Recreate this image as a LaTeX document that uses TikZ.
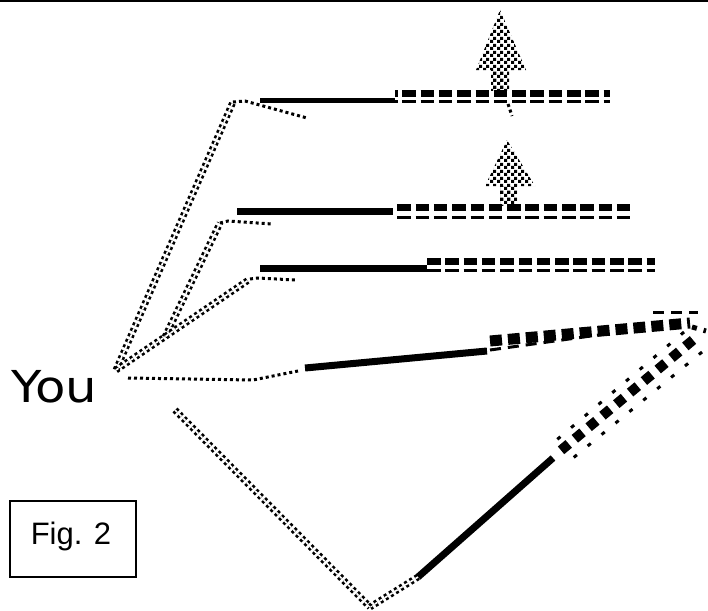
\documentclass[tikz,border=0pt]{standalone}
\usepackage{fontspec}
\setmainfont{Liberation Sans}
\newfontfamily\youfont{DejaVu Sans}
\usetikzlibrary{patterns}
\pgfdeclarepatternformonly{pixcheck}{\pgfqpoint{0pt}{0pt}}{\pgfqpoint{7pt}{7pt}}{\pgfqpoint{7pt}{7pt}}{%
  \pgfpathrectangle{\pgfpointorigin}{\pgfqpoint{3.5pt}{3.5pt}}%
  \pgfpathrectangle{\pgfqpoint{3.5pt}{3.5pt}}{\pgfqpoint{3.5pt}{3.5pt}}%
  \pgfusepath{fill}}
\begin{document}
\begin{tikzpicture}[x=1pt,y=-1pt,
  pixdot/.style={line width=3pt, dash pattern=on 3pt off 3pt},
  pixpair/.style={double, double distance=1.6pt, line width=2.6pt, dash pattern=on 3pt off 3pt},
  bar/.style={line width=#1},
  bandtop/.style={line width=7pt, dash pattern=on 13.5pt off 4.8pt},
  bandlow/.style={line width=3pt, dash pattern=on 13.5pt off 4.8pt},
  bigband/.style={line width=11pt, dash pattern=on 12pt off 6pt},
  thinband/.style={line width=3pt, dash pattern=on 11pt off 7pt},
  treefill/.style={pattern=pixcheck},
  ]
\useasboundingbox (0,0) rectangle (708,610);

% top border
\coordinate (tl) at (0,0.8);
\coordinate (tr) at (708,0.8);
\draw[line width=1.6pt] (tl) -- (tr);

% labels
\node[font=\youfont\fontsize{44}{50}\selectfont, anchor=base west, inner sep=0pt] (you label) at (11,402) {\scalebox{1.13}[1]{You}};
\node[draw, line width=1.2pt, minimum width=126pt, minimum height=76pt, inner sep=0pt] (figbox) at (73,539) {};
\node[font=\fontsize{31}{34}\selectfont, anchor=base, inner sep=0pt] (figtext) at (71,544) {Fig. 2};

% origin of the paths
\coordinate (you) at (116,370);

% path A (top)
\coordinate (a1) at (233,102);
\coordinate (a2) at (245,101);
\coordinate (a3) at (307,118);
\draw[pixpair] (you) -- (a1);
\draw[pixdot] (a1) -- (a2) -- (a3);
\coordinate (s1a) at (260,100.5);
\coordinate (s1b) at (395,100.5);
\draw[bar=5pt] (s1a) -- (s1b);
\coordinate (d1a) at (395,93.5);
\coordinate (d1b) at (610,93.5);
\coordinate (d1c) at (395,101.5);
\coordinate (d1d) at (610,101.5);
\draw[bandtop, dash phase=11pt] (d1a) -- (d1b);
\draw[bandlow, dash phase=11pt] (d1c) -- (d1d);

% path B
\coordinate (b0) at (165,337);
\coordinate (b1) at (220,223);
\coordinate (b2) at (228,221);
\coordinate (b3) at (272,224);
\draw[pixpair] (b0) -- (b1);
\draw[pixdot] (b1) -- (b2) -- (b3);
\coordinate (s2a) at (237,211.5);
\coordinate (s2b) at (393,211.5);
\draw[bar=7pt] (s2a) -- (s2b);
\coordinate (d2a) at (395,207.5);
\coordinate (d2b) at (632,207.5);
\coordinate (d2c) at (395,217.5);
\coordinate (d2d) at (632,217.5);
\draw[bandtop, dash phase=16pt] (d2a) -- (d2b);
\draw[bandlow, dash phase=16pt] (d2c) -- (d2d);

% path C
\coordinate (c1) at (250,279);
\coordinate (c2) at (258,278);
\coordinate (c3) at (295,280);
\draw[pixpair] (you) -- (c1);
\draw[pixdot] (c1) -- (c2) -- (c3);
\coordinate (s3a) at (260,268.5);
\coordinate (s3b) at (427,268.5);
\draw[bar=7pt] (s3a) -- (s3b);
\coordinate (d3a) at (427,261.5);
\coordinate (d3b) at (655,261.5);
\coordinate (d3c) at (427,270);
\coordinate (d3d) at (655,270);
\draw[bandtop] (d3a) -- (d3b);
\draw[bandlow] (d3c) -- (d3d);

% path D (the loop)
\coordinate (e0) at (128,378);
\coordinate (e1) at (253,380);
\coordinate (e2) at (298,371);
\draw[pixdot] (e0) -- (e1) -- (e2);
\coordinate (s4a) at (305,368);
\coordinate (s4b) at (487,351);
\draw[bar=7pt] (s4a) -- (s4b);
\coordinate (l1) at (490,341);
\coordinate (l2) at (690,323);
\draw[bigband] (l1) -- (l2);
\coordinate (l3) at (490,350);
\coordinate (l4) at (605,334);
\draw[thinband] (l3) -- (l4);
\coordinate (l5) at (653,312);
\coordinate (l6) at (698,312);
\draw[thinband] (l5) -- (l6);
\coordinate (r1) at (692,327);
\coordinate (r2) at (706,331);
\draw[line width=5pt, dash pattern=on 5pt off 7pt] (r1) -- (r2);
\coordinate (m1) at (693,340);
\coordinate (m2) at (559,452);
\draw[bigband, line width=10pt, dash pattern=on 10pt off 8pt] (m1) -- (m2);
\coordinate (m3) at (702,352);
\coordinate (m4) at (567,463);
\draw[thinband, dash pattern=on 4pt off 14pt] (m3) -- (m4);
\coordinate (m5) at (684,332);
\coordinate (m6) at (553,443);
\draw[thinband, dash pattern=on 4pt off 14pt] (m5) -- (m6);
\coordinate (s5a) at (553,458);
\coordinate (s5b) at (418,577);
\draw[bar=7pt] (s5a) -- (s5b);
\coordinate (bot) at (370,607);
\draw[pixpair] (s5b) -- (bot);
\coordinate (f0) at (175,410);
\draw[pixpair] (f0) -- (bot);

% trees
\fill[treefill] (500,10) -- (526,70) -- (476,70) -- cycle;
\fill[treefill] (491,70) rectangle (509,90);
\coordinate (stub1) at (508,104);
\coordinate (stub2) at (512,116);
\draw[pixdot] (stub1) -- (stub2);
\fill[treefill] (507,140) -- (535,186) -- (485,186) -- cycle;
\fill[treefill] (500,186) rectangle (517,205);
\end{tikzpicture}
\end{document}
